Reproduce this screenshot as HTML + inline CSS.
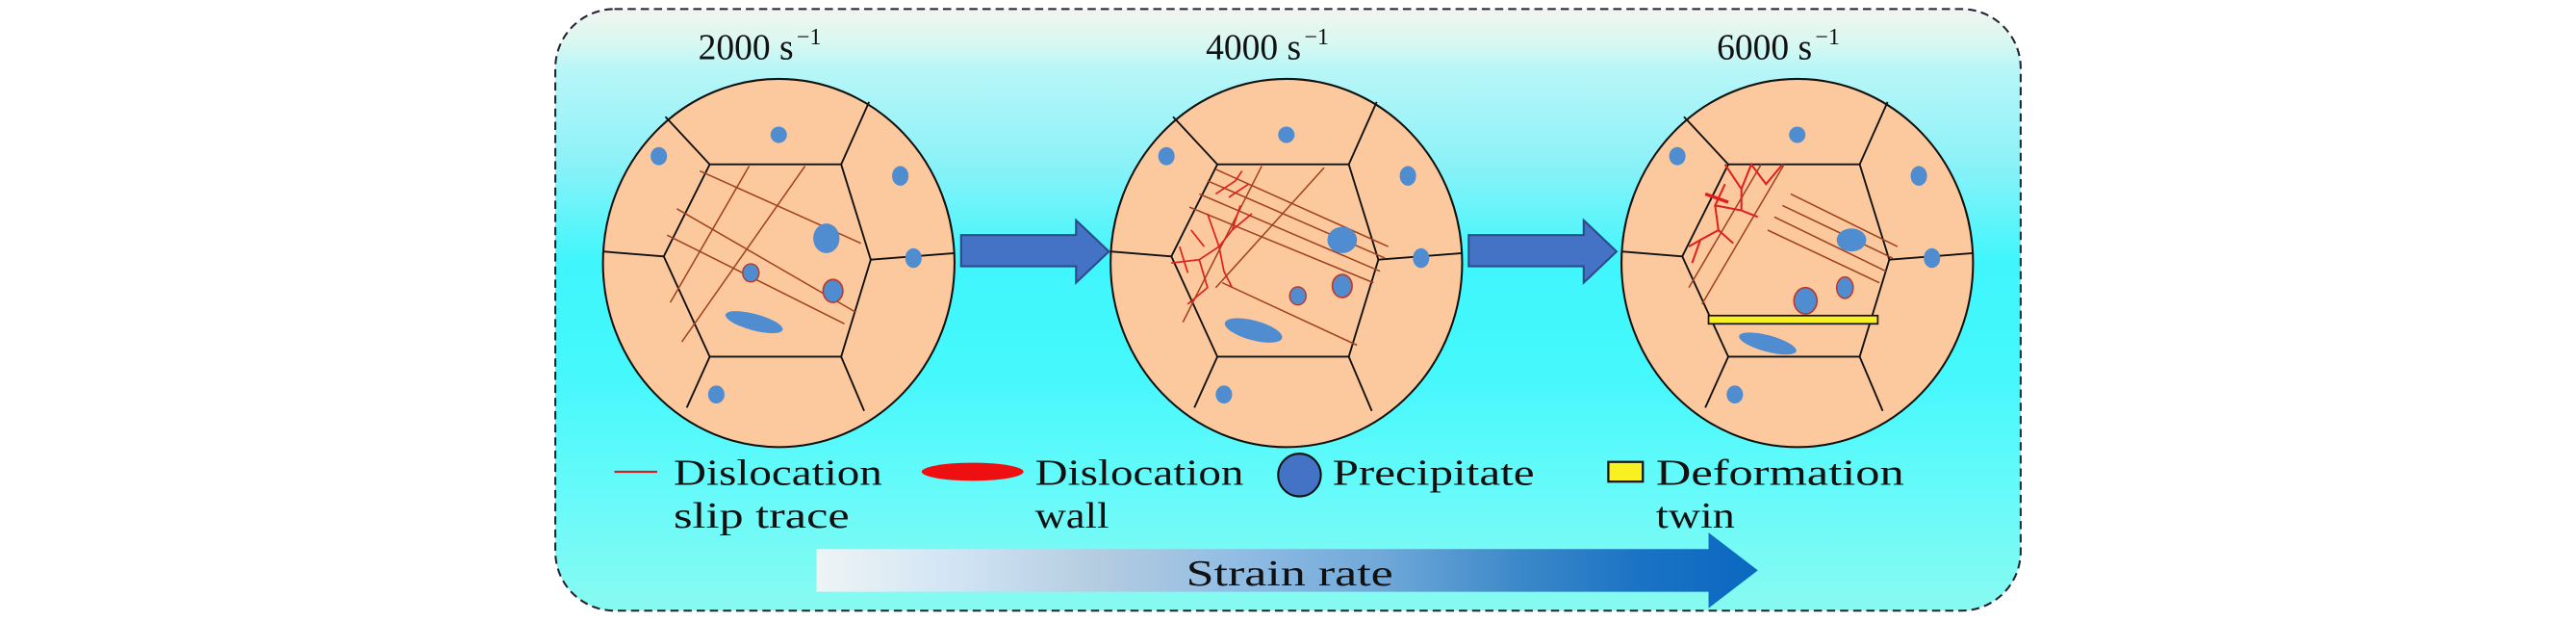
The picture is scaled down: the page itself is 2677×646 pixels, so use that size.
<!DOCTYPE html>
<html><head><meta charset="utf-8"><style>
html,body{margin:0;padding:0;background:#fff;width:2677px;height:646px;overflow:hidden}
svg{display:block}
text{font-family:"Liberation Serif",serif;fill:#111}
</style></head><body>
<svg width="2677" height="646" viewBox="0 0 1568 378.4" xmlns="http://www.w3.org/2000/svg">
<defs>
<linearGradient id="bg" x1="0" y1="0" x2="0" y2="1">
<stop offset="0" stop-color="#f2f4f0"/>
<stop offset="0.05" stop-color="#dcf8f0"/>
<stop offset="0.1" stop-color="#b8f6f8"/>
<stop offset="0.25" stop-color="#8ef2f8"/>
<stop offset="0.42" stop-color="#40f6fc"/>
<stop offset="0.6" stop-color="#44f8fc"/>
<stop offset="0.8" stop-color="#66fafa"/>
<stop offset="1" stop-color="#88faf0"/>
</linearGradient>
<linearGradient id="sr" x1="0" y1="0" x2="1" y2="0">
<stop offset="0" stop-color="#eef4f4"/>
<stop offset="0.15" stop-color="#d0e4f4"/>
<stop offset="0.3" stop-color="#b4cce0"/>
<stop offset="0.45" stop-color="#90bce4"/>
<stop offset="0.6" stop-color="#70a8d8"/>
<stop offset="0.75" stop-color="#3a88c8"/>
<stop offset="0.88" stop-color="#1a72c4"/>
<stop offset="1" stop-color="#0a68c0"/>
</linearGradient>
<g id="grain">
<ellipse cx="474" cy="160" rx="107" ry="112" fill="#fcc89e" stroke="#111" stroke-width="1.2"/>
<polygon points="432,100 512,100 530,158 512,217 432,217 404,156" fill="none" stroke="#111" stroke-width="1.1"/>
<g stroke="#111" stroke-width="1.1">
<line x1="432" y1="100" x2="405" y2="71"/>
<line x1="512" y1="100" x2="529" y2="62"/>
<line x1="530" y1="158" x2="581" y2="154"/>
<line x1="512" y1="217" x2="526" y2="250"/>
<line x1="432" y1="217" x2="418" y2="248"/>
<line x1="404" y1="156" x2="367" y2="153"/>
</g>
<g fill="#4f8cd0">
<ellipse cx="474" cy="82" rx="5" ry="5"/>
<ellipse cx="401" cy="95" rx="5" ry="5.5"/>
<ellipse cx="548" cy="107" rx="5" ry="6"/>
<ellipse cx="556" cy="157" rx="5" ry="6"/>
<ellipse cx="436" cy="240" rx="5" ry="5.5"/>
</g>
</g>
</defs>
<rect x="338" y="5.5" width="892" height="366" rx="36" fill="url(#bg)" stroke="#223" stroke-width="1.2" stroke-dasharray="5,3"/>

<text x="425" y="36" font-size="22" textLength="58" lengthAdjust="spacingAndGlyphs">2000 s</text><text x="485" y="27" font-size="14">−1</text>
<text x="734" y="36" font-size="22" textLength="58" lengthAdjust="spacingAndGlyphs">4000 s</text><text x="794" y="27" font-size="14">−1</text>
<text x="1045" y="36" font-size="22" textLength="58" lengthAdjust="spacingAndGlyphs">6000 s</text><text x="1105" y="27" font-size="14">−1</text>

<!-- grain 1 -->
<use href="#grain"/>
<g stroke="#a0421e" stroke-width="0.9">
<line x1="426" y1="104" x2="524" y2="148"/>
<line x1="412" y1="127" x2="521" y2="190"/>
<line x1="406" y1="143" x2="514" y2="197"/>
<line x1="408" y1="184" x2="456" y2="101"/>
<line x1="415" y1="208" x2="490" y2="101"/>
</g>
<ellipse cx="503" cy="145" rx="8" ry="9" fill="#4f8cd0"/>
<ellipse cx="457" cy="166" rx="5" ry="5.5" fill="#4f8cd0" stroke="#b03a2a" stroke-width="0.8"/>
<ellipse cx="507" cy="177" rx="6" ry="7" fill="#4f8cd0" stroke="#c03a2a" stroke-width="1"/>
<ellipse cx="459" cy="196" rx="18" ry="5" fill="#4f8cd0" transform="rotate(15 459 196)"/>

<!-- grain 2 -->
<g transform="translate(309,0)"><use href="#grain"/></g>
<g stroke="#a0421e" stroke-width="0.9">
<line x1="740" y1="103" x2="845" y2="150"/>
<line x1="735" y1="110" x2="843" y2="157"/>
<line x1="730" y1="118" x2="840" y2="165"/>
<line x1="724" y1="126" x2="836" y2="172"/>
<line x1="744" y1="172" x2="826" y2="210"/>
<line x1="720" y1="196" x2="768" y2="101"/>
<line x1="740" y1="175" x2="806" y2="102"/>
</g>
<g stroke="#e0201c" stroke-width="1" fill="none">
<path d="M713,160 L730,158 L742,150 L750,140 L762,130 M730,158 L735,175 L723,185 M742,150 L745,165 L750,175 M750,140 L755,125 M735,130 L742,150 M725,140 L733,150 M718,150 L723,166"/>
<path d="M748,120 L760,112 M740,118 L752,110 L756,104" />
</g>
<ellipse cx="817" cy="146" rx="9" ry="8" fill="#4f8cd0"/>
<ellipse cx="790" cy="180" rx="5" ry="5.5" fill="#4f8cd0" stroke="#b03a2a" stroke-width="0.8"/>
<ellipse cx="817" cy="174" rx="6" ry="7" fill="#4f8cd0" stroke="#c03a2a" stroke-width="1"/>
<ellipse cx="763" cy="201" rx="18" ry="6" fill="#4f8cd0" transform="rotate(15 763 201)"/>

<!-- grain 3 -->
<g transform="translate(620,0)"><use href="#grain"/></g>
<g stroke="#a0421e" stroke-width="0.9">
<line x1="1090" y1="118" x2="1155" y2="150"/>
<line x1="1085" y1="125" x2="1152" y2="157"/>
<line x1="1080" y1="132" x2="1148" y2="165"/>
<line x1="1076" y1="140" x2="1144" y2="172"/>
<line x1="1028" y1="175" x2="1072" y2="100"/>
<line x1="1036" y1="185" x2="1086" y2="100"/>
</g>
<g stroke="#e0201c" stroke-width="1.2" fill="none">
<path d="M1050,100 L1060,115 L1066,100 L1075,112 L1085,100 M1060,115 L1060,128 L1070,132 M1050,112 L1044,125 L1060,128 M1044,125 L1046,140 L1035,146 L1030,160 M1046,140 L1055,148 M1035,146 L1028,150"/>
<path d="M1038,118 L1052,123" stroke-width="2"/>
</g>
<rect x="1040" y="192" width="103" height="5" fill="#f8f020" stroke="#111" stroke-width="1"/>
<ellipse cx="1127" cy="146" rx="9" ry="7" fill="#4f8cd0"/>
<ellipse cx="1123" cy="175" rx="5" ry="6.5" fill="#4f8cd0" stroke="#c03a2a" stroke-width="0.9"/>
<ellipse cx="1099" cy="183" rx="7" ry="8" fill="#4f8cd0" stroke="#c03a2a" stroke-width="1"/>
<ellipse cx="1076" cy="209" rx="18" ry="5" fill="#4f8cd0" transform="rotate(15 1076 209)"/>

<!-- process arrows -->
<path d="M585,143 L655,143 L655,134 L675,153 L655,172 L655,162 L585,162 Z" fill="#4472c4" stroke="#2a4a8a" stroke-width="1.2"/>
<path d="M894,143 L964,143 L964,134 L984,153 L964,172 L964,162 L894,162 Z" fill="#4472c4" stroke="#2a4a8a" stroke-width="1.2"/>

<!-- legend -->
<line x1="374" y1="287" x2="400" y2="287" stroke="#d02020" stroke-width="1.3"/>
<text x="410" y="295" font-size="22" textLength="127" lengthAdjust="spacingAndGlyphs">Dislocation</text>
<text x="410" y="321" font-size="22" textLength="107" lengthAdjust="spacingAndGlyphs">slip trace</text>
<ellipse cx="592" cy="287" rx="31" ry="5.5" fill="#ee1010"/>
<text x="630" y="295" font-size="22" textLength="127" lengthAdjust="spacingAndGlyphs">Dislocation</text>
<text x="630" y="321" font-size="22" textLength="45" lengthAdjust="spacingAndGlyphs">wall</text>
<ellipse cx="791" cy="289" rx="13" ry="13" fill="#4472c4" stroke="#111" stroke-width="1.2"/>
<text x="811" y="295" font-size="22" textLength="123" lengthAdjust="spacingAndGlyphs">Precipitate</text>
<rect x="979" y="281" width="21" height="12" fill="#f8f020" stroke="#111" stroke-width="1.3"/>
<text x="1008" y="295" font-size="22" textLength="151" lengthAdjust="spacingAndGlyphs">Deformation</text>
<text x="1008" y="321" font-size="22" textLength="48" lengthAdjust="spacingAndGlyphs">twin</text>

<!-- strain rate -->
<path d="M497,334 L1040,334 L1040,324 L1070,347 L1040,370 L1040,360 L497,360 Z" fill="url(#sr)"/>
<text x="722" y="356" font-size="22" textLength="126" lengthAdjust="spacingAndGlyphs">Strain rate</text>
</svg>
</body></html>
